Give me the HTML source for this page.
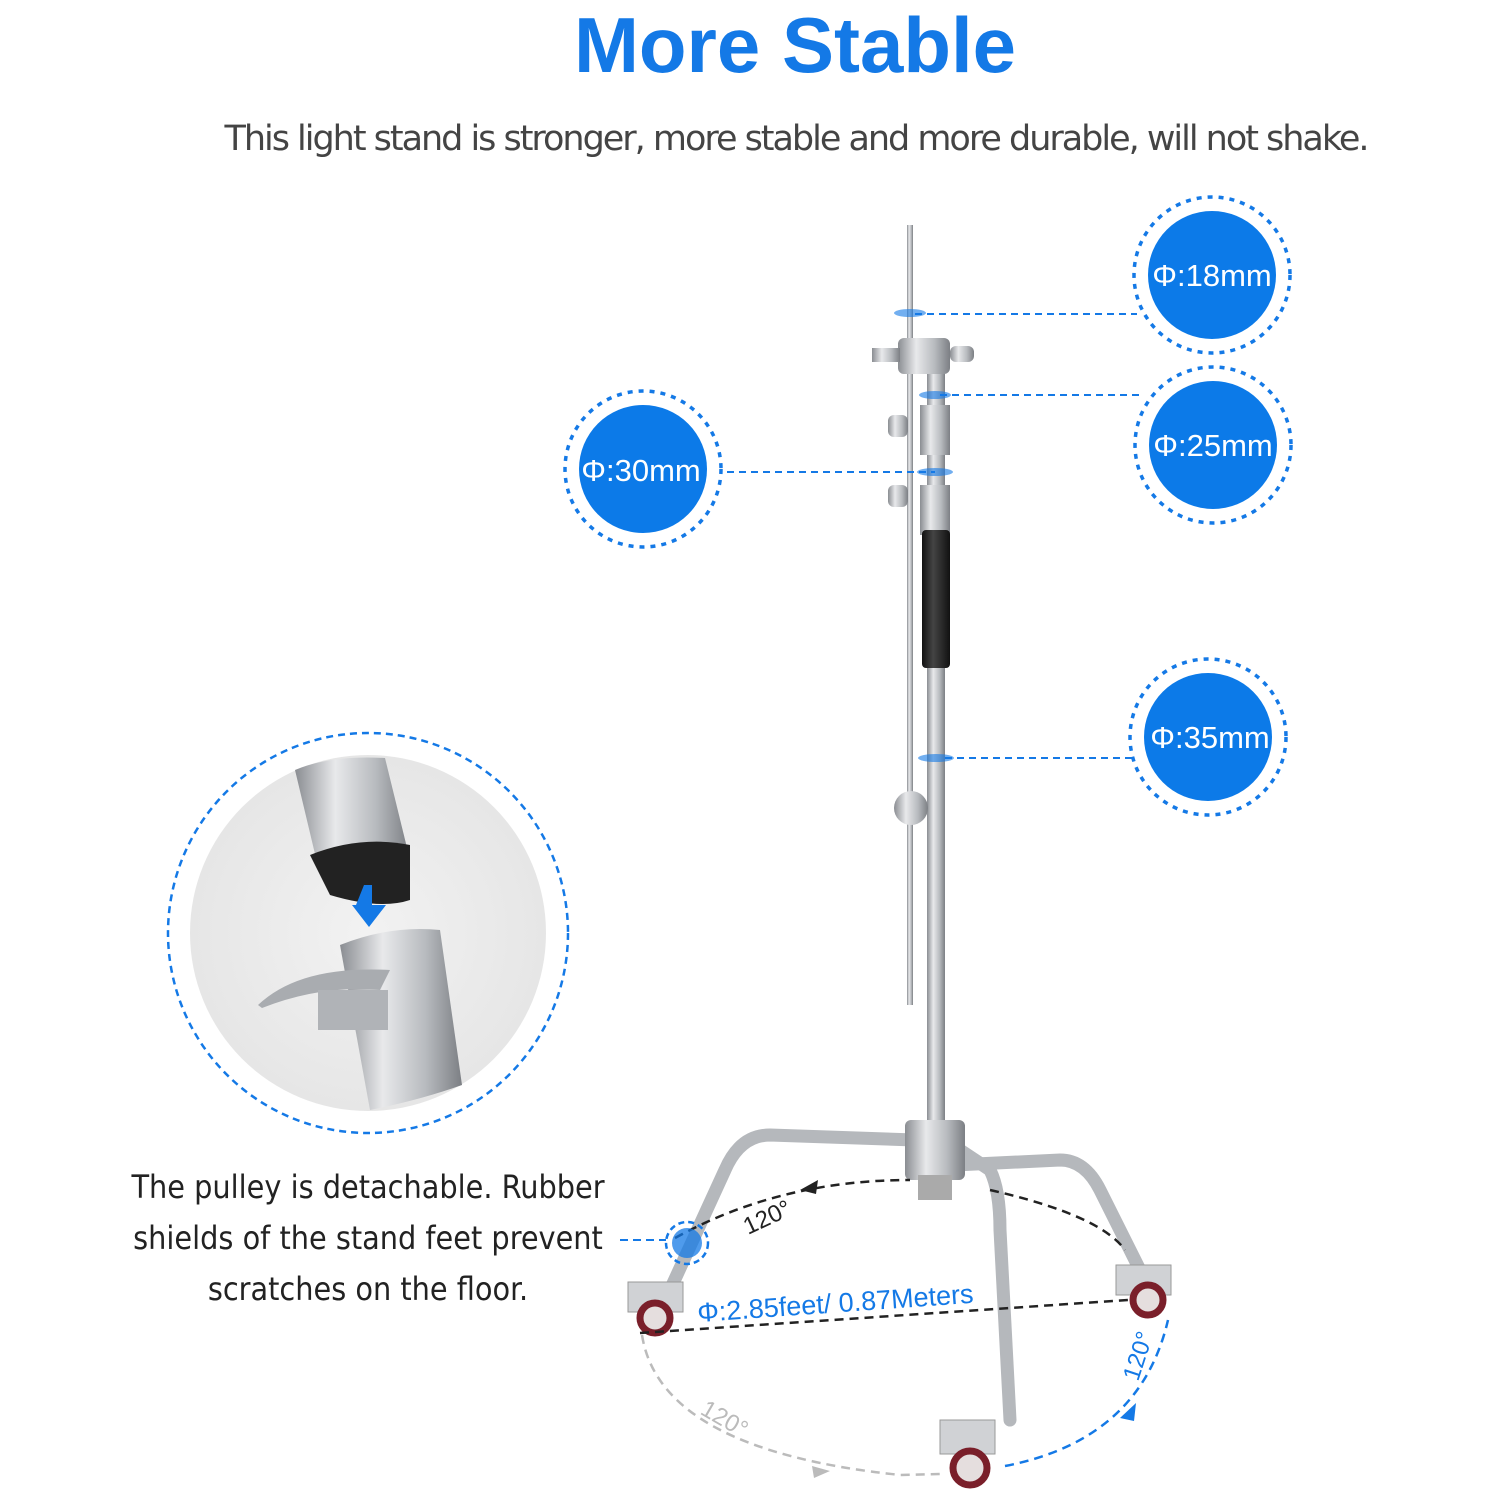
<!DOCTYPE html>
<html><head><meta charset="utf-8"><style>
html,body{margin:0;padding:0;background:#fff;}
body{width:1500px;height:1500px;overflow:hidden;position:relative;font-family:"Liberation Sans",sans-serif;}
</style></head><body>
<svg width="1500" height="1500" viewBox="0 0 1500 1500" xmlns="http://www.w3.org/2000/svg" style="position:absolute;left:0;top:0">
<defs>
<linearGradient id="steel" x1="0" x2="1" y1="0" y2="0">
<stop offset="0" stop-color="#8a8d92"/><stop offset="0.35" stop-color="#e8e9eb"/><stop offset="0.7" stop-color="#b8bbbf"/><stop offset="1" stop-color="#7c7f84"/>
</linearGradient>
<linearGradient id="blk" x1="0" x2="1"><stop offset="0" stop-color="#111"/><stop offset="0.4" stop-color="#444"/><stop offset="1" stop-color="#111"/></linearGradient>
<radialGradient id="bg" cx="0.5" cy="0.5" r="0.5"><stop offset="0" stop-color="#f2f2f2"/><stop offset="1" stop-color="#e6e6e6"/></radialGradient>
</defs>
<text x="795" y="72" text-anchor="middle" font-size="78" font-weight="bold" fill="#1479e6" font-family="Liberation Sans, sans-serif">More Stable</text>
<text x="797" y="150" text-anchor="middle" font-size="35" fill="#444" font-family="DejaVu Sans, sans-serif" textLength="1145">This  light stand is stronger, more stable and more durable, will not shake.</text>

<!-- stand -->
<rect x="907" y="225" width="6" height="780" fill="url(#steel)"/>
<rect x="927" y="345" width="18" height="780" fill="url(#steel)"/>
<rect x="920" y="405" width="30" height="50" fill="url(#steel)"/>
<rect x="920" y="485" width="30" height="50" fill="url(#steel)"/>
<rect x="922" y="530" width="28" height="138" rx="4" fill="url(#blk)"/>
<rect x="898" y="338" width="52" height="36" rx="6" fill="url(#steel)"/>
<rect x="872" y="348" width="28" height="14" fill="url(#steel)"/>
<rect x="950" y="346" width="24" height="16" rx="6" fill="url(#steel)"/>
<rect x="888" y="415" width="20" height="22" rx="6" fill="url(#steel)"/>
<rect x="888" y="485" width="20" height="22" rx="6" fill="url(#steel)"/>
<circle cx="911" cy="808" r="17" fill="url(#steel)"/>
<!-- base -->
<g stroke="#b5b8bc" stroke-width="13" fill="none" stroke-linecap="round">
<path d="M915 1140 L770 1135 Q740 1135 725 1170 L670 1290"/>
<path d="M945 1140 L990 1170 Q1000 1190 1000 1230 L1010 1420"/>
<path d="M955 1165 L1060 1160 Q1085 1160 1100 1190 L1140 1270"/>
</g>
<rect x="905" y="1120" width="60" height="60" rx="6" fill="url(#steel)"/>
<rect x="918" y="1175" width="34" height="25" fill="#aaa"/>
<g fill="#d0d2d5" stroke="#999">
<rect x="628" y="1282" width="55" height="30"/><rect x="1116" y="1265" width="55" height="30"/><rect x="940" y="1420" width="55" height="34"/>
</g>
<g fill="#e5dede" stroke="#7a1f2a" stroke-width="7">
<circle cx="655" cy="1318" r="15"/><circle cx="1148" cy="1300" r="15"/><circle cx="970" cy="1468" r="17"/>
</g>
<!-- dimension lines -->
<g fill="none" stroke-width="2.5" stroke-dasharray="9 6">
<path d="M675 1238 Q780 1180 910 1180" stroke="#222"/>
<path d="M990 1190 Q1100 1215 1125 1250" stroke="#222"/>
<line x1="640" y1="1333" x2="1128" y2="1300" stroke="#222"/>
<path d="M642 1335 Q660 1450 900 1475 L940 1474" stroke="#bbb"/>
<path d="M1005 1466 Q1140 1440 1168 1320" stroke="#1479e6"/>
</g>
<path d="M800 1190 l18 -10 -2 14z" fill="#222"/>
<path d="M812 1466 l18 5 -16 7z" fill="#bbb"/>
<path d="M1120 1418 l16 -15 -2 18z" fill="#1479e6"/>
<text x="748" y="1235" font-size="24" fill="#222" transform="rotate(-25 748 1235)">120°</text>
<text x="700" y="1420" font-size="24" fill="#bbb" transform="rotate(30 712 1415)">120°</text>
<text x="1138" y="1382" font-size="24" fill="#1479e6" transform="rotate(-72 1138 1382)">120°</text>
<text x="698" y="1322" font-size="27" fill="#1479e6" transform="rotate(-4 698 1322)">Φ:2.85feet/ 0.87Meters</text>
<circle cx="687" cy="1243" r="21" fill="none" stroke="#1479e6" stroke-width="2.5" stroke-dasharray="6 4"/>
<circle cx="687" cy="1243" r="15" fill="#1479e6" opacity="0.75"/>
<line x1="620" y1="1240" x2="666" y2="1240" stroke="#1479e6" stroke-width="2" stroke-dasharray="8 5"/>

<!-- diameter callouts -->
<g stroke="#1479e6" stroke-width="2" stroke-dasharray="7 5" fill="none">
<line x1="915" y1="314" x2="1137" y2="314"/>
<line x1="940" y1="395" x2="1142" y2="395"/>
<line x1="727" y1="472" x2="935" y2="472"/>
<line x1="945" y1="758" x2="1132" y2="758"/>
</g>
<g fill="#1479e6" opacity="0.6">
<ellipse cx="910" cy="313" rx="16" ry="4"/><ellipse cx="935" cy="395" rx="16" ry="4"/><ellipse cx="935" cy="472" rx="18" ry="4"/><ellipse cx="936" cy="758" rx="18" ry="4"/>
</g>
<g stroke="#1479e6" stroke-width="3.5" stroke-dasharray="5 6" fill="none">
<circle cx="1212" cy="275" r="78"/><circle cx="1213" cy="445" r="78"/><circle cx="643" cy="469" r="78"/><circle cx="1208" cy="737" r="78"/>
</g>
<g fill="#0c7ae8">
<circle cx="1212" cy="275" r="64"/><circle cx="1213" cy="445" r="64"/><circle cx="643" cy="469" r="64"/><circle cx="1208" cy="737" r="64"/>
</g>
<g fill="#fff" font-size="31" text-anchor="middle">
<text x="1212" y="286">Φ:18mm</text><text x="1213" y="456">Φ:25mm</text><text x="641" y="481">Φ:30mm</text><text x="1210" y="748">Φ:35mm</text>
</g>

<!-- detail circle -->
<circle cx="368" cy="933" r="200" fill="none" stroke="#1479e6" stroke-width="2.5" stroke-dasharray="7 5"/>
<circle cx="368" cy="933" r="178" fill="url(#bg)"/>
<path d="M295 770 Q330 755 385 758 L410 860 Q380 880 320 875 Z" fill="url(#steel)"/>
<path d="M310 855 Q360 835 410 845 L410 900 Q380 910 330 895 Z" fill="#222"/>
<path d="M340 945 Q390 925 440 930 L462 1085 Q420 1100 370 1110 Z" fill="url(#steel)"/>
<path d="M258 1005 Q300 965 390 970 L380 990 Q320 985 262 1008 Z" fill="#a9acb0"/>
<rect x="318" y="990" width="70" height="40" fill="#b0b3b7"/>
<path d="M356 905 l16 0 0 -20 10 0 -18 0z M352 905 h34 l-17 22z" fill="#1479e6"/>

<g font-size="32" fill="#222" text-anchor="middle" font-family="DejaVu Sans Condensed, DejaVu Sans, sans-serif">
<text x="368" y="1198">The pulley is detachable. Rubber</text>
<text x="368" y="1249">shields of the stand feet prevent</text>
<text x="368" y="1300">scratches on the floor.</text>
</g>
</svg>
</body></html>
